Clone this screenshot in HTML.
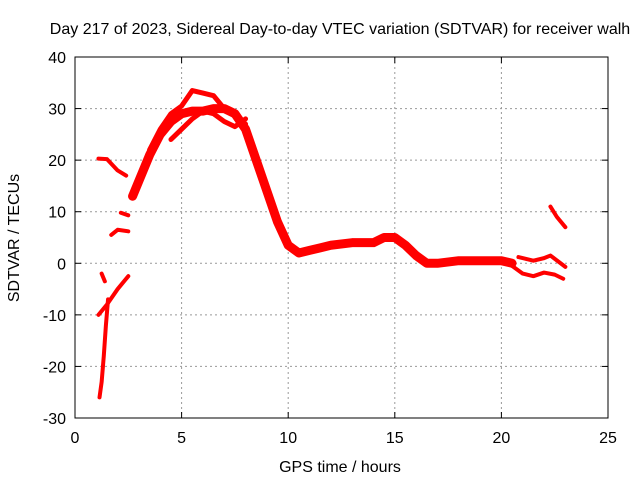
<!DOCTYPE html>
<html><head><meta charset="utf-8"><style>
body{margin:0;background:#fff}
svg{display:block}
text{font-family:"Liberation Sans",sans-serif;font-size:16px;fill:#000}
</style></head><body>
<svg id="chart" width="640" height="480">
<rect x="0" y="0" width="640" height="480" fill="#fff"/>
<text x="340" y="34" text-anchor="middle">Day 217 of 2023, Sidereal Day-to-day VTEC variation (SDTVAR) for receiver walh</text>
<g id="grid"></g>
<g id="series"></g>
<rect x="75" y="57" width="533" height="361" fill="none" stroke="#000" stroke-width="1"/>
<g id="axes"></g>
<text x="340" y="472" text-anchor="middle">GPS time / hours</text>
<text transform="translate(19,238) rotate(-90)" text-anchor="middle">SDTVAR / TECUs</text>
</svg>
<script>
const xTicks=[0,5,10,15,20,25];
const yTicks=[-30,-20,-10,0,10,20,30,40];
const mainArc=[[2.7,13],[3,16],[3.5,21],[4,25],[4.5,27.5],[5,29],[5.5,29.5],[6,29.5],[6.5,30],[7,30],[7.5,29],[8,26],[8.5,20],[9,14],[9.5,8],[10,3.5],[10.5,2],[11,2.5],[11.5,3],[12,3.5],[13,4],[14,4],[14.5,5],[15,5],[15.5,3.5],[16,1.5],[16.5,0],[17,0],[18,0.5],[19,0.5],[20,0.5],[20.5,0]];
const upperArc=[[3.5,22],[4,26],[4.5,29],[5,30.5],[5.5,33.5],[6,33],[6.5,32.5],[7,30],[7.5,28.5],[8,27]];
const middleArc=[[4.5,24],[5,26],[5.5,28],[6,29.5],[6.5,29],[7,27.5],[7.5,26.5],[8,28]];
const arcA=[[1.1,20.3],[1.5,20.2],[2,18],[2.4,17]];
const arcB=[[2.15,9.8],[2.5,9.3]];
const arcC=[[1.7,5.5],[2,6.5],[2.5,6.2]];
const arcD=[[1.25,-2],[1.4,-3.5]];
const arcE=[[1.1,-10],[1.5,-8],[2,-5],[2.5,-2.5]];
const arcF=[[1.55,-7],[1.45,-12],[1.35,-18],[1.25,-23],[1.15,-26]];
const arcG=[[20.8,1.2],[21.5,0.5],[22,1],[22.3,1.5],[23,-0.7]];
const arcH=[[20.5,-0.5],[21,-2],[21.5,-2.5],[22,-1.8],[22.5,-2.2],[22.9,-3]];
const arcI=[[22.3,11],[22.6,9],[23,7]];
const seriesList=[mainArc,upperArc,middleArc,arcA,arcB,arcC,arcD,arcE,arcF,arcG,arcH,arcI];
const seriesNames=['main-arc','upper-arc','middle-arc','arc-a','arc-b','arc-c','arc-d','arc-e','arc-f','arc-g','arc-h','arc-i'];

const X0=75,X1=608,Y0=418,Y1=57;
const sx=v=>X0+(v-0)/25*(X1-X0);
const sy=v=>Y0-(v+30)/70*(Y0-Y1);
const NS='http://www.w3.org/2000/svg';
const grid=document.getElementById('grid'),axes=document.getElementById('axes'),ser=document.getElementById('series');
function mk(t,a,p){const e=document.createElementNS(NS,t);for(const k in a)e.setAttribute(k,a[k]);p.appendChild(e);return e;}
xTicks.forEach(v=>{
  const x=sx(v);
  if(v>0&&v<25){const g=mk('line',{x1:x,x2:x,y1:Y1,y2:Y0,stroke:'#999','stroke-dasharray':'2,3'},grid);
  
  }
  const t1=mk('line',{x1:x,x2:x,y1:Y0,y2:Y0-6,stroke:'#000'},axes);
  
  
  const t2=mk('line',{x1:x,x2:x,y1:Y1,y2:Y1+6,stroke:'#000'},axes);
  
  
  const l=mk('text',{x:x,y:443,'text-anchor':'middle'},axes);l.textContent=v;
  
  
});
yTicks.forEach(v=>{
  const y=sy(v);
  if(v>-30&&v<40){const g=mk('line',{x1:X0,x2:X1,y1:y,y2:y,stroke:'#999','stroke-dasharray':'2,3'},grid);
  
  }
  const t1=mk('line',{x1:X0,x2:X0+6,y1:y,y2:y,stroke:'#000'},axes);
  
  
  const t2=mk('line',{x1:X1,x2:X1-6,y1:y,y2:y,stroke:'#000'},axes);
  
  
  const l=mk('text',{x:66,y:y+6,'text-anchor':'end'},axes);l.textContent=v;
  
  
});
seriesList.forEach((s,i)=>{
  const w=i===0?9:(i<3?5:4);
  const p=mk('polyline',{points:s.map(d=>sx(d[0])+','+sy(d[1])).join(' '),fill:'none',stroke:'#f00','stroke-width':w,'stroke-linejoin':'round','stroke-linecap':'round'},ser);
  
  
});
</script>
</body></html>
